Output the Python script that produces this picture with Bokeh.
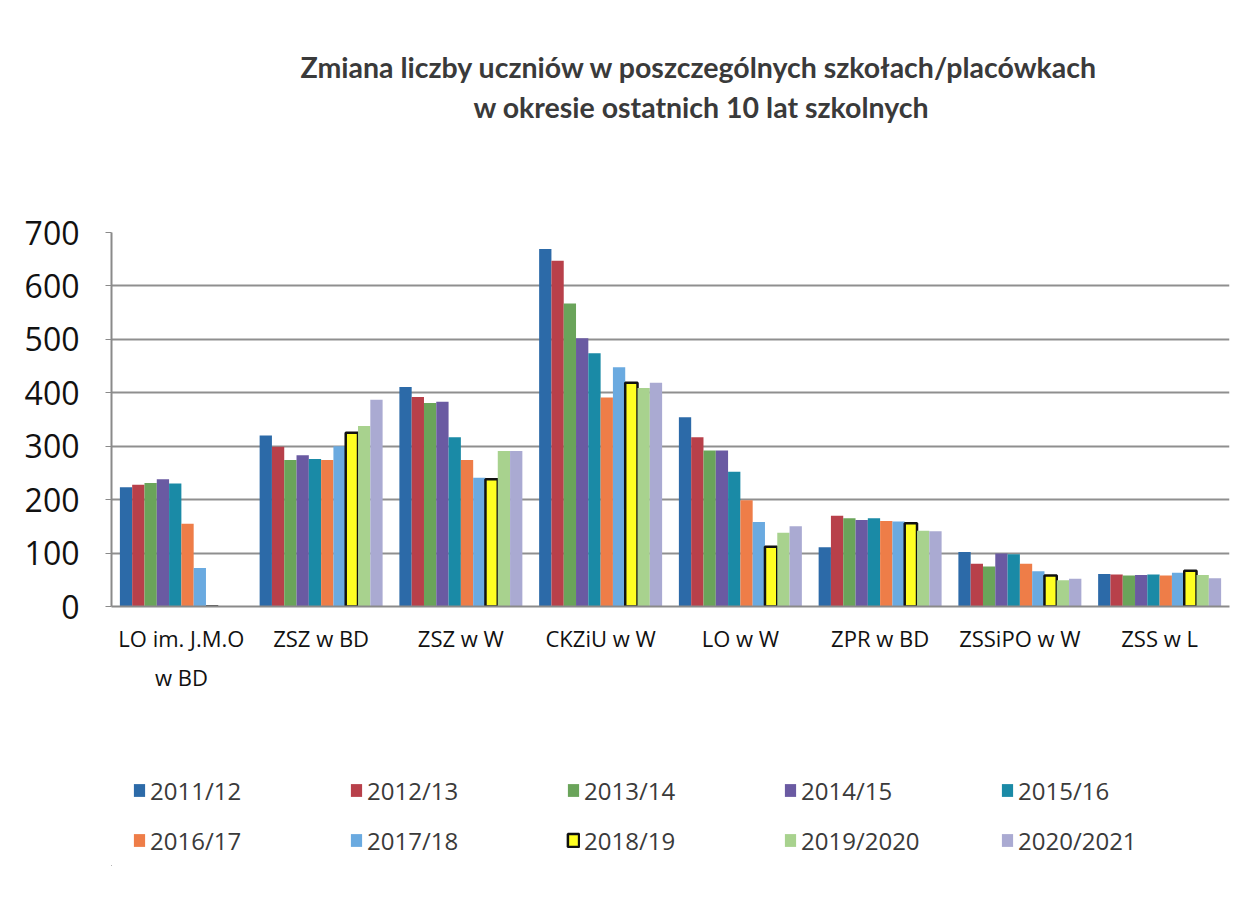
from bokeh.plotting import figure
from bokeh.models import (ColumnDataSource, FactorRange, Range1d, FixedTicker, Legend, LegendItem,
                          Title, CategoricalAxis)
from bokeh.layouts import column
from bokeh.transform import dodge
from bokeh.embed import file_html
from bokeh.resources import INLINE

categories = ["LO im. J.M.O w BD", "ZSZ w BD", "ZSZ w W", "CKZiU w W", "LO w W",
              "ZPR w BD", "ZSSiPO w W", "ZSS w L"]
label_line1 = ["LO im. J.M.O", "ZSZ w BD", "ZSZ w W", "CKZiU w W", "LO w W",
               "ZPR w BD", "ZSSiPO w W", "ZSS w L"]
label_line2 = ["w BD", " ", "  ", "   ", "    ", "     ", "      ", "       "]
years = ["2011/12", "2012/13", "2013/14", "2014/15", "2015/16",
         "2016/17", "2017/18", "2018/19", "2019/2020", "2020/2021"]

s2011_12 = [223, 320, 411, 669, 354, 111, 102, 61]
s2012_13 = [228, 299, 392, 647, 317, 170, 80, 60]
s2013_14 = [231, 274, 381, 567, 292, 165, 75, 58]
s2014_15 = [238, 283, 383, 502, 292, 162, 99, 59]
s2015_16 = [230, 276, 317, 474, 252, 165, 98, 60]
s2016_17 = [155, 274, 274, 391, 199, 160, 80, 58]
s2017_18 = [72, 300, 241, 448, 158, 159, 66, 63]
s2018_19 = [0, 325, 238, 419, 112, 156, 58, 67]
s2019_2020 = [0, 338, 291, 409, 138, 142, 49, 59]
s2020_2021 = [0, 387, 291, 419, 150, 141, 52, 53]

series = [s2011_12, s2012_13, s2013_14, s2014_15, s2015_16,
          s2016_17, s2017_18, s2018_19, s2019_2020, s2020_2021]
colors = ["#2c6aa8", "#b8404a", "#6aa45a", "#6a5aa2", "#1a8aa6",
          "#ee7d48", "#6aaae0", "#ffff22", "#a8d28e", "#aaaad2"]
outline = [None] * 7 + ["#111111"] + [None] * 2

data = {"cat": categories}
for i, s in enumerate(series):
    data["y%d" % i] = s
src = ColumnDataSource(data)

p = figure(x_range=FactorRange(*categories), y_range=Range1d(0, 700),
           frame_width=1118, frame_height=374, x_axis_location=None,
           min_border_left=111, min_border_right=8, min_border_top=232, min_border_bottom=110,
           output_backend="svg", toolbar_location=None, background_fill_color="white",
           border_fill_color="white")
p.outline_line_color = None
p.extra_x_ranges = {"l1": FactorRange(*label_line1), "l2": FactorRange(*label_line2)}

bw = 0.088
for i, s in enumerate(series):
    off = (i - 4.5) * bw
    kw = dict(line_color=outline[i], line_width=2.5) if outline[i] else dict(line_color=None)
    p.vbar(x=dodge("cat", off, range=p.x_range), top="y%d" % i, width=bw,
           source=src, fill_color=colors[i], **kw)

# title: spacer, then line 2, then line 1 (later-added lies farther from the frame)
tfont = dict(text_font="Lato", text_font_size="28.5px", text_font_style="bold",
             text_color="#3a3a3a")
p.add_layout(Title(text=" ", standoff=73, **tfont), "above")
p.add_layout(Title(text="w okresie ostatnich 10 lat szkolnych", align="left", offset=362,
                   standoff=0, **tfont), "above")
p.add_layout(Title(text="Zmiana liczby uczniów w poszczególnych szkołach/placówkach",
                   align="left", offset=189, standoff=8, **tfont), "above")

# axes
p.yaxis.ticker = FixedTicker(ticks=[0, 100, 200, 300, 400, 500, 600, 700])
p.yaxis.major_label_text_font = "Open Sans"
p.yaxis.major_label_text_font_size = "32px"
p.yaxis.major_label_text_color = "#111111"
p.yaxis.axis_line_color = "#8a8a8a"
p.yaxis.axis_line_width = 2
p.yaxis.major_tick_line_color = "#8a8a8a"
p.yaxis.major_tick_out = 6
p.yaxis.major_tick_in = 0
p.yaxis.minor_tick_line_color = None
p.yaxis.major_label_standoff = 26

ax1 = CategoricalAxis(x_range_name="l1", major_label_text_font="Open Sans",
                      major_label_text_font_size="22px", major_label_text_color="#111111",
                      axis_line_color="#8a8a8a", axis_line_width=2, major_tick_line_color=None,
                      major_label_standoff=10)
ax2 = CategoricalAxis(x_range_name="l2", major_label_text_font="Open Sans",
                      major_label_text_font_size="22px", major_label_text_color="#111111",
                      axis_line_color=None, major_tick_line_color=None, major_label_standoff=0)
p.add_layout(ax1, "below")
p.add_layout(ax2, "below")

p.xgrid.grid_line_color = None
p.ygrid.grid_line_color = "#8f8f8f"
p.ygrid.grid_line_width = 2

# legend panel (separate figure beneath the chart; swatch renderers lie outside its view)
pl = figure(width=1237, height=150, x_range=Range1d(0, 1), y_range=Range1d(0, 1),
            x_axis_location=None, y_axis_location=None, min_border=0,
            output_backend="svg", toolbar_location=None, background_fill_color="white",
            border_fill_color="white")
pl.outline_line_color = None
pl.grid.grid_line_color = None
sw = []
for i in range(10):
    kw = dict(line_color=outline[i], line_width=2.5) if outline[i] else dict(line_color=None)
    sw.append(pl.vbar(x=[-5], top=[-5], bottom=[-6], width=0.1, fill_color=colors[i], **kw))
items = [LegendItem(label=years[i], renderers=[sw[i]]) for i in range(10)]
legend = Legend(items=items, orientation="horizontal", ncols=5, location=(21, 2),
                label_text_font="Open Sans", label_text_font_size="24px",
                label_text_color="#3a3a3a", glyph_width=14, glyph_height=16,
                label_standoff=4, label_width=197, label_height=48, spacing=2,
                border_line_color=None, background_fill_alpha=0, margin=0, padding=0)
pl.add_layout(legend, "center")

lay = column(p, pl, spacing=0)
open("out.html", "w").write(file_html(lay, INLINE))
